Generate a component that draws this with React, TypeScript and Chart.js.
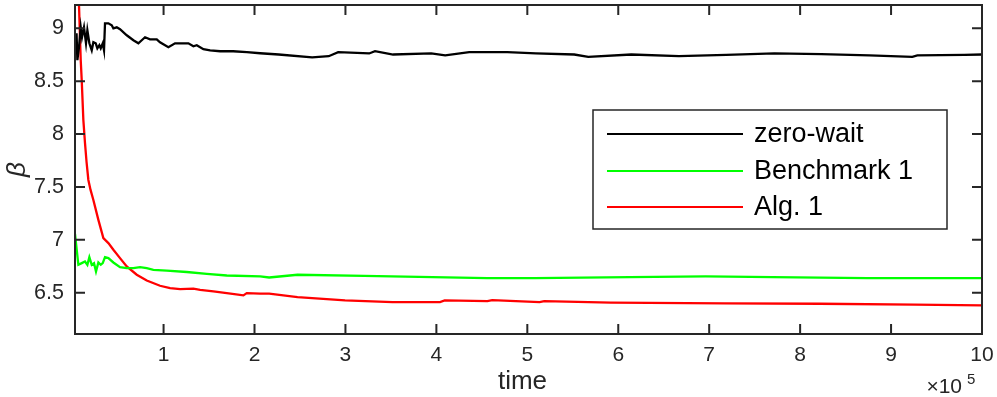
import React, { useEffect, useRef } from "react";
import { Chart, registerables } from "chart.js";

Chart.register(...registerables);

// ---- data (time, beta) ----
const ZW_T = [2600, 4300, 5200, 7000, 8900, 10300, 12500, 14700, 16200, 18400, 21000, 22800, 25400, 27200, 29400, 30900, 33100, 34500, 35600, 39300, 43000, 44800, 48500, 52100, 59500, 66800, 72300, 76000, 79600, 85100, 92500, 96100, 105300, 112600, 120000, 127300, 132800, 136500, 143800, 151200, 162200, 176500, 191600, 206200, 226600, 263400, 281600, 292000, 326100, 332500, 352400, 394300, 409700, 436100, 477900, 509500, 551600, 567000, 614300, 666700, 718800, 771600, 823300, 876100, 923400, 928900, 980600, 1000000];
const ZW_V = [8.80, 8.953, 8.698, 8.821, 9.009, 8.915, 9.009, 8.858, 8.981, 8.858, 8.792, 8.868, 8.858, 8.811, 8.840, 8.811, 8.858, 8.792, 9.047, 9.047, 9.028, 9.0, 9.009, 8.991, 8.934, 8.887, 8.858, 8.887, 8.915, 8.896, 8.896, 8.868, 8.821, 8.858, 8.858, 8.858, 8.830, 8.840, 8.802, 8.792, 8.783, 8.783, 8.774, 8.764, 8.752, 8.724, 8.736, 8.774, 8.762, 8.783, 8.752, 8.762, 8.743, 8.774, 8.774, 8.762, 8.752, 8.730, 8.752, 8.736, 8.749, 8.762, 8.755, 8.743, 8.730, 8.743, 8.749, 8.752];

const B1_T = [2600, 4500, 6300, 10000, 13600, 16200, 18400, 21000, 23500, 25700, 28300, 30900, 33100, 35600, 39300, 44800, 52100, 59500, 66800, 74100, 81500, 88800, 103500, 125500, 147500, 169500, 206200, 216100, 247300, 320500, 455900, 508300, 612700, 696200, 769700, 874000, 1000000];
const B1_V = [7.057, 6.906, 6.764, 6.780, 6.795, 6.764, 6.836, 6.764, 6.780, 6.701, 6.786, 6.764, 6.780, 6.836, 6.827, 6.786, 6.742, 6.733, 6.733, 6.742, 6.733, 6.717, 6.710, 6.696, 6.679, 6.663, 6.655, 6.644, 6.670, 6.660, 6.638, 6.638, 6.648, 6.655, 6.648, 6.638, 6.638];

const A1_T = [2600, 7000, 8900, 10000, 11800, 13600, 15300, 17300, 19700, 22800, 28300, 33800, 39300, 44800, 52100, 59500, 70500, 81500, 96100, 107200, 118200, 132800, 140200, 154800, 169500, 187800, 191500, 206200, 216100, 247300, 299600, 351700, 404000, 409100, 456100, 461400, 513500, 518600, 591800, 717100, 821400, 925800, 1000000];
const A1_V = [10.4, 9.217, 8.698, 8.509, 8.132, 7.915, 7.736, 7.566, 7.472, 7.377, 7.189, 7.016, 6.969, 6.906, 6.827, 6.748, 6.670, 6.616, 6.566, 6.544, 6.535, 6.538, 6.528, 6.512, 6.497, 6.475, 6.497, 6.491, 6.491, 6.459, 6.427, 6.412, 6.412, 6.427, 6.421, 6.431, 6.412, 6.421, 6.406, 6.399, 6.396, 6.387, 6.380];

const SERIES_LABELS = ["zero-wait", "Benchmark 1", "Alg. 1"];
const SERIES_COLORS = ["#000000", "#00ff00", "#ff0000"];

const X_TICKS = [100000, 200000, 300000, 400000, 500000, 600000, 700000, 800000, 900000, 1000000];
const X_TICK_LABELS = ["1", "2", "3", "4", "5", "6", "7", "8", "9", "10"];
const Y_TICKS = [6.5, 7, 7.5, 8, 8.5, 9];
const Y_TICK_LABELS = ["6.5", "7", "7.5", "8", "8.5", "9"];

const X_LABEL = "time";
const Y_LABEL = "β";
const X_EXP_BASE = "×10";
const X_EXP = "5";

const FONT = '"Liberation Sans", Arial, Helvetica, sans-serif';
const AXIS_COLOR = "#262626";

const framePlugin = {
  id: "matlabFrame",
  afterDraw(chart: any) {
    const { ctx, chartArea: a, scales } = chart;
    const xs = scales.x;
    const ys = scales.y;
    ctx.save();
    ctx.strokeStyle = AXIS_COLOR;
    ctx.lineWidth = 2;
    ctx.strokeRect(a.left, a.top, a.right - a.left, a.bottom - a.top);
    const TL = 10;
    ctx.beginPath();
    X_TICKS.forEach((t) => {
      const px = xs.getPixelForValue(t);
      ctx.moveTo(px, a.bottom);
      ctx.lineTo(px, a.bottom - TL);
      ctx.moveTo(px, a.top);
      ctx.lineTo(px, a.top + TL);
    });
    Y_TICKS.forEach((v) => {
      const py = ys.getPixelForValue(v);
      ctx.moveTo(a.left, py);
      ctx.lineTo(a.left + TL, py);
      ctx.moveTo(a.right, py);
      ctx.lineTo(a.right - TL, py);
    });
    ctx.stroke();

    // axis labels
    ctx.fillStyle = AXIS_COLOR;
    ctx.font = `26px ${FONT}`;
    ctx.textAlign = "center";
    ctx.textBaseline = "middle";
    ctx.fillText(X_LABEL, (a.left + a.right) / 2 - 6, 382);

    ctx.save();
    ctx.translate(18, (a.top + a.bottom) / 2);
    ctx.rotate(-Math.PI / 2);
    ctx.font = `italic 26px ${FONT}`;
    ctx.fillText(Y_LABEL, 0, 0);
    ctx.restore();

    // exponent
    ctx.font = `21px ${FONT}`;
    ctx.textAlign = "right";
    ctx.textBaseline = "alphabetic";
    ctx.fillText(X_EXP_BASE, 962, 393);
    ctx.font = `15px ${FONT}`;
    ctx.textAlign = "left";
    ctx.fillText(X_EXP, 967, 384);

    // legend
    const lx = 593, ly = 110, lw = 354, lh = 119;
    ctx.fillStyle = "#ffffff";
    ctx.fillRect(lx, ly, lw, lh);
    ctx.strokeStyle = AXIS_COLOR;
    ctx.lineWidth = 1.5;
    ctx.strokeRect(lx, ly, lw, lh);
    const rows = [134, 171, 207];
    chart.data.datasets.forEach((ds: any, i: number) => {
      const yy = rows[i];
      ctx.strokeStyle = ds.borderColor;
      ctx.lineWidth = 2;
      ctx.beginPath();
      ctx.moveTo(607, yy);
      ctx.lineTo(743, yy);
      ctx.stroke();
      ctx.fillStyle = "#000000";
      ctx.font = `27px ${FONT}`;
      ctx.textAlign = "left";
      ctx.textBaseline = "middle";
      ctx.fillText(ds.label, 754, yy + 1);
    });
    ctx.restore();
  },
};

const zeroPad = (s: any) => {
  s.paddingTop = 0;
  s.paddingBottom = 0;
  s.paddingLeft = 0;
  s.paddingRight = 0;
};

export default function App() {
  const canvasRef = useRef<HTMLCanvasElement | null>(null);

  useEffect(() => {
    const canvas = canvasRef.current;
    if (!canvas) return;
    const series = [
      [ZW_T, ZW_V],
      [B1_T, B1_V],
      [A1_T, A1_V],
    ];
    const chart = new Chart(canvas, {
      type: "line",
      data: {
        datasets: series.map(([ts, vs], i) => ({
          label: SERIES_LABELS[i],
          data: (ts as number[]).map((t, j) => ({ x: t, y: (vs as number[])[j] })),
          borderColor: SERIES_COLORS[i],
          backgroundColor: SERIES_COLORS[i],
          borderWidth: 2.3,
          pointRadius: 0,
          tension: 0,
          fill: false,
        })),
      },
      options: {
        animation: false,
        responsive: false,
        maintainAspectRatio: false,
        layout: { padding: { top: 5, right: 15, left: 0, bottom: 0 } },
        plugins: {
          legend: { display: false },
          tooltip: { enabled: false },
        },
        scales: {
          x: {
            type: "linear",
            min: 2600,
            max: 1000000,
            afterBuildTicks: (s: any) => {
              s.ticks = X_TICKS.map((v) => ({ value: v }));
            },
            afterFit: (s: any) => {
              s.height = 63;
              zeroPad(s);
            },
            grid: { display: false, drawTicks: false },
            border: { display: false },
            ticks: {
              autoSkip: false,
              maxRotation: 0,
              padding: 9,
              color: AXIS_COLOR,
              font: { family: FONT, size: 21 },
              callback: (_v: any, i: number) => X_TICK_LABELS[i],
            },
          },
          y: {
            type: "linear",
            min: 6.11,
            max: 9.22,
            afterBuildTicks: (s: any) => {
              s.ticks = Y_TICKS.map((v) => ({ value: v }));
            },
            afterFit: (s: any) => {
              s.width = 75;
              zeroPad(s);
            },
            grid: { display: false, drawTicks: false },
            border: { display: false },
            ticks: {
              autoSkip: false,
              padding: 11,
              color: AXIS_COLOR,
              font: { family: FONT, size: 21.5 },
              callback: (_v: any, i: number) => Y_TICK_LABELS[i],
            },
          },
        },
      },
      plugins: [framePlugin],
    });
    return () => chart.destroy();
  }, []);

  return (
    <div style={{ position: "absolute", left: 0, top: 0, width: 997, height: 397, background: "#fff" }}>
      <canvas ref={canvasRef} width={997} height={397} style={{ width: 997, height: 397, display: "block" }} />
    </div>
  );
}
